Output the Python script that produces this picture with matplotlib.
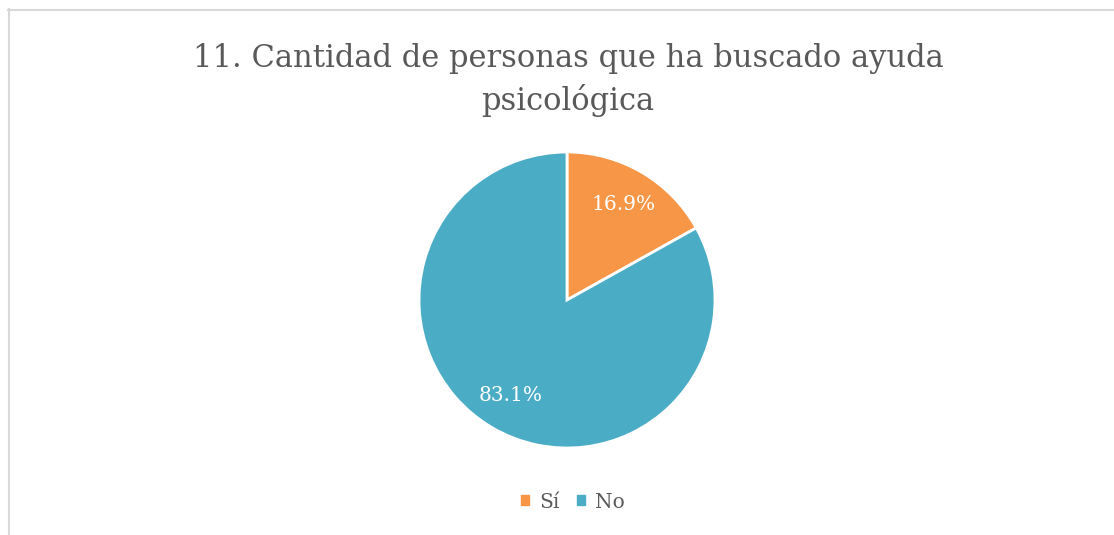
import matplotlib
matplotlib.use('Agg')
import matplotlib.pyplot as plt
from matplotlib.lines import Line2D
from matplotlib.patches import Rectangle

labels = ['Sí', 'No']
values = [16.9, 83.1]
colors = ['#F79646', '#4BACC6']
title = '11. Cantidad de personas que ha buscado ayuda\npsicológica'

W, H = 1114, 535
fig = plt.figure(figsize=(W / 100, H / 100), dpi=100)
plt.rcParams['font.family'] = ['DejaVu Serif']

# chart border (top and left only visible)
fig.add_artist(Line2D([8 / W, 1], [1 - 9.5 / H, 1 - 9.5 / H], color='#D9D9D9', lw=1.5))
fig.add_artist(Line2D([8.5 / W, 8.5 / W], [0, 1 - 9 / H], color='#D9D9D9', lw=1.5))

# pie: center (567, 300), radius 148 px
cx, cy, r = 567, 300, 148
ax = fig.add_axes([(cx - r) / W, 1 - (cy + r) / H, 2 * r / W, 2 * r / H])
wedges, texts, autotexts = ax.pie(
    values, colors=colors, startangle=90, counterclock=False,
    autopct='%1.1f%%', pctdistance=0.75,
    wedgeprops=dict(edgecolor='white', linewidth=2),
    textprops=dict(color='white', fontsize=14.5))
ax.set_xlim(-1, 1)
ax.set_ylim(-1, 1)
ax.set_aspect('equal')
ax.axis('off')

fig.text(568 / W, 1 - 80 / H, title, ha='center', va='center', fontsize=22,
         color='#595959', linespacing=1.35)

# legend
handles = [Rectangle((0, 0), 1, 1, color=c) for c in colors]
fig.legend(handles, labels, loc='center', bbox_to_anchor=(573 / W, 1 - 502 / H),
           ncol=2, frameon=False, fontsize=14.5, handlelength=0.38, handleheight=0.38,
           handletextpad=0.5, columnspacing=0.9, labelcolor='#595959')

fig.savefig('out.png', dpi=100)
